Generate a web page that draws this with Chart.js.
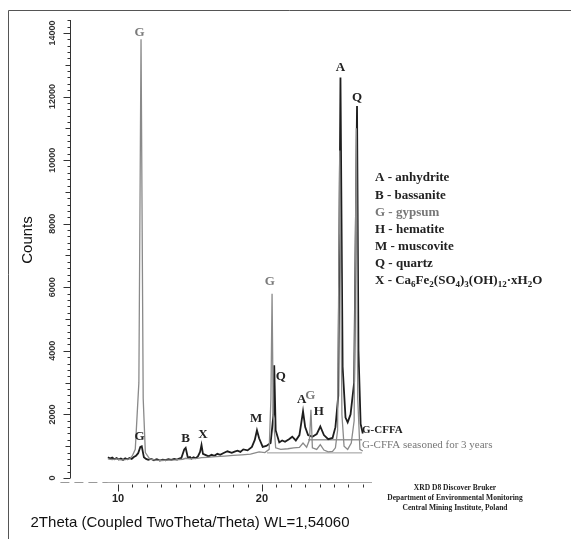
<!DOCTYPE html>
<html>
<head>
<meta charset="utf-8">
<script src="https://cdn.jsdelivr.net/npm/chart.js@4/dist/chart.umd.min.js"></script>
<style>
  body { margin: 0; background: #fff; }
  #wrap { width: 571px; height: 539px; }
</style>
</head>
<body>
<div id="wrap"><canvas id="xrd" width="571" height="539"></canvas></div>
<script>
// G-CFFA (fresh)
var thetaFresh = [9.3, 9.45, 9.6, 9.75, 9.9, 10.05, 10.2, 10.35, 10.5, 10.65, 10.8, 10.95, 11.1, 11.25, 11.4, 11.55, 11.65, 11.8, 11.95, 12.1, 12.3, 12.5, 12.7, 12.9, 13.1, 13.3, 13.5, 13.7, 13.9, 14.1, 14.25, 14.4, 14.6, 14.7, 14.85, 15.0, 15.1, 15.25, 15.4, 15.55, 15.7, 15.8, 15.9, 16.1, 16.3, 16.5, 16.7, 16.9, 17.1, 17.3, 17.6, 17.9, 18.1, 18.3, 18.5, 18.7, 19.0, 19.3, 19.5, 19.65, 19.8, 20.05, 20.3, 20.6, 20.8, 20.85, 20.95, 21.2, 21.4, 21.6, 21.9, 22.1, 22.35, 22.6, 22.85, 23.0, 23.2, 23.5, 23.8, 24.05, 24.3, 24.6, 24.9, 25.1, 25.3, 25.45, 25.6, 25.8, 25.95, 26.15, 26.4, 26.6, 26.7, 26.85, 27.0];
var countsFresh = [650, 610, 640, 590, 630, 580, 610, 570, 620, 590, 630, 600, 660, 700, 780, 980, 1000, 650, 600, 570, 600, 560, 590, 550, 580, 560, 590, 570, 600, 580, 610, 630, 900, 950, 640, 660, 610, 650, 620, 680, 820, 1040, 760, 720, 680, 730, 700, 760, 730, 780, 840, 790, 830, 860, 820, 900, 870, 980, 1200, 1500, 1250, 980, 1010, 1100, 2000, 3550, 1500, 1120, 1180, 1140, 1230, 1300, 1180, 1350, 2100, 1600, 1350, 1300, 1380, 1620, 1350, 1220, 1260, 1600, 2600, 12600, 3500, 1900, 1750, 2000, 3000, 11700, 4000, 1700, 1400];

// G-CFFA seasoned for 3 years
var thetaSeasoned = [9.3, 9.6, 9.9, 10.2, 10.5, 10.8, 11.0, 11.2, 11.45, 11.6, 11.75, 11.9, 12.2, 12.6, 13.0, 13.5, 14.0, 14.5, 14.7, 15.0, 15.5, 15.8, 16.2, 16.8, 17.4, 18.0, 18.6, 19.2, 19.6, 19.8, 20.2, 20.5, 20.62, 20.7, 20.78, 20.95, 21.3, 21.8, 22.2, 22.6, 22.85, 23.1, 23.3, 23.4, 23.5, 23.8, 24.05, 24.3, 24.6, 24.9, 25.1, 25.25, 25.4, 25.55, 25.7, 25.95, 26.2, 26.4, 26.55, 26.65, 26.8, 27.0];
var countsSeasoned = [600, 580, 600, 570, 580, 600, 700, 900, 3000, 13800, 2500, 800, 600, 560, 550, 560, 570, 590, 620, 600, 620, 640, 650, 670, 690, 710, 730, 750, 800, 820, 800, 900, 2500, 5800, 2000, 950, 900, 920, 950, 960, 1100, 970, 1200, 2150, 950, 900, 1050, 880, 820, 840, 950, 1500, 10300, 2000, 1000, 900, 1100, 1800, 11000, 2500, 900, 850];

// background guide lines under the series labels
var guideFreshTheta = [23.2, 26.95];
var guideFreshCounts = [1200, 1200];
var guideSeasonedTheta = [20.35, 26.95];
var guideSeasonedCounts = [790, 790];

var yTickLabels = [0, 2000, 4000, 6000, 8000, 10000, 12000, 14000];
var xTickLabels = [10, 20];

// peak letters: name, 2theta, counts at the letter
var peakNames = ["G", "G", "B", "X", "M", "G", "Q", "A", "G", "H", "A", "Q"];
var peakTheta = [11.5, 11.5, 14.7, 15.9, 19.6, 20.55, 21.3, 22.75, 23.35, 23.95, 25.45, 26.6];
var peakCounts = [14000, 1300, 1250, 1350, 1880, 6170, 3190, 2460, 2580, 2080, 12920, 11960];
var peakGrey = [true, false, false, false, false, true, false, false, true, false, false, false];

var legendRows = ["A - anhydrite", "B - bassanite", "G - gypsum", "H - hematite", "M - muscovite", "Q - quartz"];

function pts(xs, ys) {
  return xs.map(function (t, i) { return { x: t, y: ys[i] }; });
}

function drawFormula(ctx, parts, x, y) {
  for (var i = 0; i < parts.length; i++) {
    var sub = parts[i][1];
    ctx.font = sub ? "bold 9px 'Liberation Serif'" : "bold 13px 'Liberation Serif'";
    ctx.fillText(parts[i][0], x, sub ? y + 4 : y);
    x += ctx.measureText(parts[i][0]).width;
  }
}

var xrdDecor = {
  id: "xrdDecor",
  afterDraw: function (chart) {
    var ctx = chart.ctx, xs = chart.scales.x, ys = chart.scales.y;
    ctx.save();

    // frame
    ctx.strokeStyle = "#555";
    ctx.lineWidth = 1;
    ctx.beginPath();
    ctx.moveTo(8.5, 539);
    ctx.lineTo(8.5, 10.5);
    ctx.lineTo(571, 10.5);
    ctx.stroke();

    // y axis
    var ax = Math.round(xs.left) + 0.5;
    var y0 = ys.getPixelForValue(0);
    ctx.strokeStyle = "#333";
    ctx.beginPath();
    ctx.moveTo(ax, ys.top);
    ctx.lineTo(ax, y0);
    for (var v = 0; v <= 14400; v += 200) {
      var len = v % 2000 === 0 ? 7 : (v % 1000 === 0 ? 5 : 3);
      var py = Math.round(ys.getPixelForValue(v)) + 0.5;
      ctx.moveTo(ax, py);
      ctx.lineTo(ax - len, py);
    }
    ctx.stroke();

    ctx.fillStyle = "#333";
    ctx.font = "bold 9px 'Liberation Sans'";
    ctx.textAlign = "center";
    ctx.textBaseline = "middle";
    yTickLabels.forEach(function (v) {
      ctx.save();
      ctx.translate(53, ys.getPixelForValue(v));
      ctx.rotate(-Math.PI / 2);
      ctx.fillText(String(v), 0, 0);
      ctx.restore();
    });

    // x axis
    var by = Math.round(ys.bottom) + 0.5;
    var xStart = xs.getPixelForValue(thetaFresh[0]);
    ctx.strokeStyle = "#999";
    ctx.setLineDash([9, 5]);
    ctx.beginPath();
    ctx.moveTo(xs.getPixelForValue(6.0), by);
    ctx.lineTo(xStart, by);
    ctx.stroke();
    ctx.setLineDash([]);
    ctx.strokeStyle = "#aaa";
    ctx.beginPath();
    ctx.moveTo(xStart, by);
    ctx.lineTo(xs.right, by);
    ctx.stroke();
    ctx.strokeStyle = "#333";
    ctx.beginPath();
    for (var t = 10; t <= 27; t++) {
      var px = Math.round(xs.getPixelForValue(t)) + 0.5;
      ctx.moveTo(px, by + 2);
      ctx.lineTo(px, by + (t % 10 === 0 ? 9 : 5));
    }
    ctx.stroke();
    ctx.font = "bold 11px 'Liberation Sans'";
    ctx.fillStyle = "#222";
    xTickLabels.forEach(function (t) {
      ctx.fillText(String(t), xs.getPixelForValue(t), 499);
    });

    // axis titles
    ctx.font = "15px 'Liberation Sans'";
    ctx.fillStyle = "#111";
    ctx.fillText("2Theta (Coupled TwoTheta/Theta) WL=1,54060", 190, 523);
    ctx.save();
    ctx.translate(28, 240);
    ctx.rotate(-Math.PI / 2);
    ctx.fillText("Counts", 0, 0);
    ctx.restore();

    // peak letters
    ctx.font = "bold 13px 'Liberation Serif'";
    peakNames.forEach(function (n, i) {
      ctx.fillStyle = peakGrey[i] ? "#7a7a7a" : "#222";
      ctx.fillText(n, xs.getPixelForValue(peakTheta[i]), ys.getPixelForValue(peakCounts[i]));
    });

    // series labels
    ctx.textAlign = "left";
    ctx.font = "bold 11px 'Liberation Serif'";
    ctx.fillStyle = "#222";
    ctx.fillText("G-CFFA", 362, 430);
    ctx.font = "11px 'Liberation Serif'";
    ctx.fillStyle = "#777";
    ctx.fillText("G-CFFA seasoned for 3 years", 362, 445);

    // mineral key
    legendRows.forEach(function (r, i) {
      ctx.font = "bold 13px 'Liberation Serif'";
      ctx.fillStyle = i === 2 ? "#777" : "#222";
      ctx.fillText(r, 375, 178 + i * 17.2);
    });
    ctx.fillStyle = "#222";
    drawFormula(ctx, [["X - Ca", 0], ["6", 1], ["Fe", 0], ["2", 1], ["(SO", 0], ["4", 1], [")", 0], ["3", 1],
      ["(OH)", 0], ["12", 1], ["\u00b7xH", 0], ["2", 1], ["O", 0]], 375, 281);

    // instrument note
    ctx.textAlign = "center";
    ctx.font = "bold 7.5px 'Liberation Serif'";
    ctx.fillText("XRD D8 Discover Bruker", 455, 488);
    ctx.fillText("Department of Environmental Monitoring", 455, 498);
    ctx.fillText("Central Mining Institute, Poland", 455, 508);

    ctx.restore();
  }
};

new Chart(document.getElementById("xrd"), {
  type: "scatter",
  data: {
    datasets: [
      {
        label: "G-CFFA seasoned for 3 years",
        data: pts(thetaSeasoned, countsSeasoned),
        showLine: true,
        borderColor: "#8a8a8a",
        borderWidth: 1.3,
        pointRadius: 0,
      },
      {
        label: "G-CFFA",
        data: pts(thetaFresh, countsFresh),
        showLine: true,
        borderColor: "#1e1e1e",
        borderWidth: 1.8,
        pointRadius: 0,
      },
      {
        label: "guide fresh",
        data: pts(guideFreshTheta, guideFreshCounts),
        showLine: true,
        borderColor: "#666",
        borderWidth: 1,
        pointRadius: 0,
      },
      {
        label: "guide seasoned",
        data: pts(guideSeasonedTheta, guideSeasonedCounts),
        showLine: true,
        borderColor: "#999",
        borderWidth: 1,
        pointRadius: 0,
      },
    ],
  },
  options: {
    responsive: false,
    animation: false,
    devicePixelRatio: 1,
    layout: { padding: { left: 70, right: 199, top: 20, bottom: 57 } },
    plugins: { legend: { display: false }, tooltip: { enabled: false } },
    scales: {
      x: { type: "linear", display: false, min: 6.667, max: 27.64 },
      y: { type: "linear", display: false, min: -126, max: 14409 },
    },
  },
  plugins: [xrdDecor],
});
</script>
</body>
</html>
